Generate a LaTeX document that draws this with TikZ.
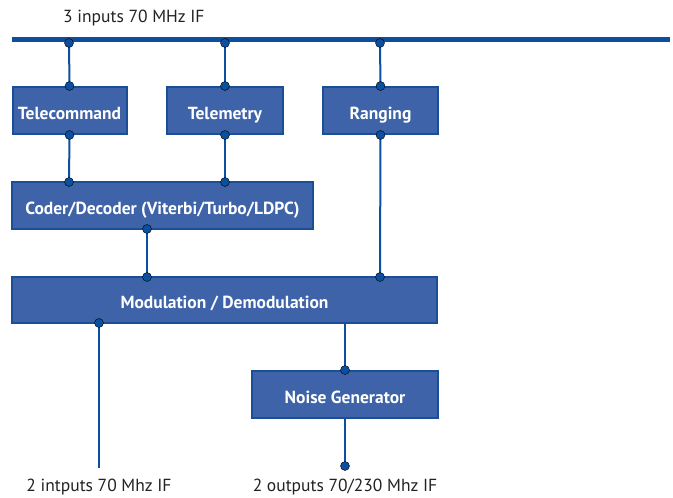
\documentclass[tikz,border=0pt]{standalone}
\usepackage{fontspec}
\setmainfont{PT Sans}
\usepackage{tikz}
\definecolor{boxblue}{HTML}{3E63A9}
\definecolor{edgeblue}{HTML}{1A4E97}
\definecolor{wireblue}{HTML}{0C4F9E}
\definecolor{labelgray}{HTML}{222222}
\tikzset{
  block/.style={draw=edgeblue,fill=boxblue,line width=2pt,text=white,
    font=\fontsize{17.5}{19}\selectfont\bfseries,minimum height=47pt,inner sep=0pt,
    text height=17pt,text depth=0pt},
  wire/.style={draw=wireblue,line width=2pt},
  dot/.style={fill=wireblue},
  lbl/.style={text=labelgray,font=\fontsize{17.5}{19}\selectfont,inner sep=0pt}
}
\begin{document}
\begin{tikzpicture}[x=1pt,y=-1pt]
\useasboundingbox (0,0) rectangle (673,498);
% bus
\coordinate (busl) at ( 12 , 39.5 );
\coordinate (busr) at ( 670 , 39.5 );
\draw[wireblue,line width=5pt] (busl)--(busr);
\node[lbl,anchor=west] (inlbl) at ( 63 , 18 ){3 inputs 70 MHz IF};
% blocks
\node[block,minimum width=114pt] (tc) at ( 69.5 , 110.5 ){Telecommand};
\node[block,minimum width=116pt] (tm) at ( 225 , 110.5 ){Telemetry};
\node[block,minimum width=115pt] (rg) at ( 380.5 , 110.5 ){Ranging};
\node[block,minimum width=301pt] (cod) at ( 162.5 , 205.5 ){Coder/Decoder (Viterbi/Turbo/LDPC)};
\node[block,minimum width=425pt,minimum height=46pt] (mod) at ( 224.5 , 300 ){Modulation / Demodulation};
\node[block,minimum width=186pt] (ng) at ( 345 , 394.5 ){Noise Generator};
% bus taps
\coordinate (btc) at ( 69 , 43 );
\coordinate (btm) at ( 225 , 43 );
\coordinate (brg) at ( 380 , 43 );
\draw[wire] (btc)--(tc.north);
\draw[wire] (btm)--(tm.north);
\draw[wire] (brg)--(rg.north);
\filldraw[dot] (btc) circle [radius=4.5];
\filldraw[dot] (btm) circle [radius=4.5];
\filldraw[dot] (brg) circle [radius=4.5];
\filldraw[dot] (tc.north) circle [radius=4.5];
\filldraw[dot] (tm.north) circle [radius=4.5];
\filldraw[dot] (rg.north) circle [radius=4.5];
% blocks to coder / modulation
\coordinate (ctc) at ( 69 , 182 );
\coordinate (ctm) at ( 225 , 182 );
\coordinate (cbot) at ( 147 , 229 );
\coordinate (mtop) at ( 147 , 277 );
\coordinate (mrg) at ( 380 , 277 );
\draw[wire] (tc.south)--(ctc);
\draw[wire] (tm.south)--(ctm);
\draw[wire] (cbot)--(mtop);
\draw[wire] (rg.south)--(mrg);
\filldraw[dot] (tc.south) circle [radius=4.5];
\filldraw[dot] (tm.south) circle [radius=4.5];
\filldraw[dot] (rg.south) circle [radius=4.5];
\filldraw[dot] (ctc) circle [radius=4.5];
\filldraw[dot] (ctm) circle [radius=4.5];
\filldraw[dot] (cbot) circle [radius=4.5];
\filldraw[dot] (mtop) circle [radius=4.5];
\filldraw[dot] (mrg) circle [radius=4.5];
% outputs
\coordinate (mbot) at ( 99 , 323 );
\coordinate (inend) at ( 99 , 468 );
\coordinate (outend) at ( 345 , 466 );
\draw[wire] (mbot)--(inend);
\draw[wire] (mod.south -| ng.north)--(ng.north);
\draw[wire] (ng.south)--(outend);
\filldraw[dot] (mbot) circle [radius=4.5];
\filldraw[dot] (ng.north) circle [radius=4.5];
\filldraw[dot] (outend) circle [radius=4.5];
\node[lbl] (inlbl2) at ( 99 , 487 ){2 intputs 70 Mhz IF};
\node[lbl] (outlbl) at ( 345 , 487 ){2 outputs 70/230 Mhz IF};
\end{tikzpicture}
\end{document}
